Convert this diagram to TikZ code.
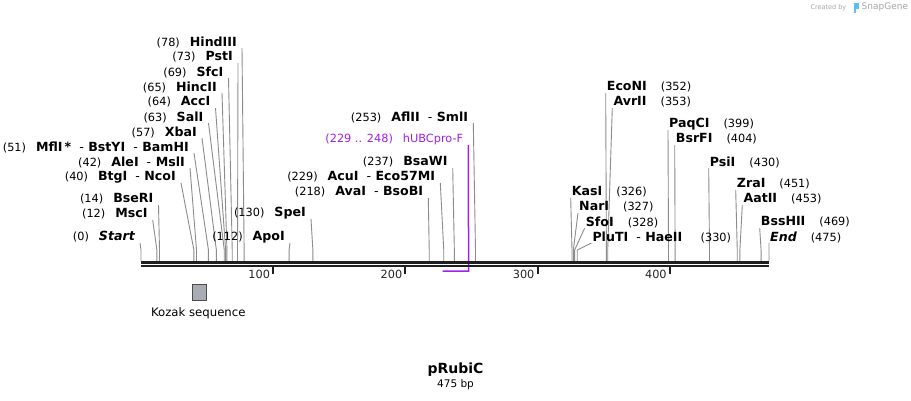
\documentclass[tikz,border=0pt]{standalone}
\usepackage{fontspec}
\setmainfont{DejaVu Sans}
\colorlet{gax}{black!45}
\colorlet{dkx}{black!88}
\colorlet{wmx}{black!35}
\definecolor{pux}{RGB}{160,32,240}
\definecolor{kzx}{RGB}{169,172,180}
\definecolor{sgx}{RGB}{90,190,240}
\newcommand\numf[1]{{\fontsize{11.3}{13}\selectfont\mdseries #1}}
\newcommand\enz[1]{{\fontsize{12.6}{14}\selectfont\bfseries #1}}
\newcommand\dsh{\mdseries\hspace{8pt}-\hspace{4.5pt}\bfseries}
\tikzset{
    cutl/.style={inner sep=0pt,anchor=east,text=black},
    cutr/.style={inner sep=0pt,anchor=west,text=black},
    site/.style={gax,line width=0.9pt},
    tickm/.style={dkx,line width=2pt},
    seqln/.style={dkx,line cap=butt}
}
\begin{document}
\begin{tikzpicture}[x=1pt,y=-1pt]
    \path[use as bounding box,fill=white] (0,0) rectangle (911,400);
    \foreach \p/\y/\xr/\txt in {
        78/42/237/{HindIII},
        73/57/233/{PstI},
        69/72/223.5/{SfcI},
        65/87/217/{HincII},
        64/102/210.5/{AccI},
        63/117/203.5/{SalI},
        57/132/197/{XbaI},
        51/147/189/{MflI\,*\dsh BstYI\dsh BamHI},
        42/162/185/{AleI\dsh MslI},
        40/177/176/{BtgI\dsh NcoI},
        14/199/153.5/{BseRI},
        12/214/147.7/{MscI},
        0/237/135/{\itshape Start},
        112/237/285/{ApoI},
        130/213/306/{SpeI},
        218/192/423.3/{AvaI\dsh BsoBI},
        229/177/435.3/{AcuI\dsh Eco57MI},
        237/162/447.7/{BsaWI},
        253/117/468.3/{AflII\dsh SmlI}
    } {
        \coordinate (s\p) at ({141+\p*1.3221},261);
        \node [cutl] (l\p) at (\xr,\y) {\numf{(\p)}\hspace{10pt}\enz{\txt}};
        \draw [site] ([xshift=5pt,yshift=-6pt]l\p.east) -- ([yshift=11pt]s\p) -- (s\p);
    }
    \foreach \p/\y/\xl/\txt in {
        352/87/606.7/{EcoNI},
        353/102/613.3/{AvrII},
        399/124/669/{PaqCI},
        404/139/675.7/{BsrFI},
        430/162/709.7/{PsiI},
        451/184/736.7/{ZraI},
        453/199/743.3/{AatII},
        469/222/760.7/{BssHII},
        475/237/770/{\itshape End},
        326/192/571.7/{KasI},
        327/207/579/{NarI},
        328/222/585.7/{SfoI},
        330/237/592.3/{PluTI\dsh HaeII}
    } {
        \coordinate (s\p) at ({141+\p*1.3221},261);
        \node [cutr] (r\p) at (\xl,\y) {\enz{\txt}\hspace{14pt}\numf{(\p)}};
        \draw [site] ([xshift=-1pt,yshift=-6pt]r\p.west) -- ([yshift=11pt]s\p) -- (s\p);
    }
    \node [cutl,text=pux] (pri) at (463.3,139) {\numf{(229 .. 248)\hspace{10pt}hUBCpro-F}};
    \coordinate (p0) at (442.5,271);
    \coordinate (p1) at (468.6,271);
    \draw [pux,line width=1.5pt] ([xshift=5pt,yshift=-6pt]pri.east) -- (p1) -- (p0);
    \draw [seqln,line width=3pt] (141,262.5) -- (769,262.5);
    \draw [seqln,line width=2pt] (141,266.3) -- (769,266.3);
    \foreach \t in {100,200,300,400} {
        \draw [tickm] ({141+\t*1.3221},267) -- ++(0,7);
        \node [cutl,text=black!85] (t\t) at ({138+\t*1.3221},274.5) {\numf{\t}};
    }
    \node [draw=black!70,fill=kzx,minimum width=14pt,minimum height=16pt,inner sep=0pt] (kz) at (199.5,292.5) {};
    \node [inner sep=0pt,font=\fontsize{11.7}{14}\selectfont] (kzl) at (198.3,313.5) {Kozak sequence};
    \node [inner sep=0pt,font=\fontsize{14}{16}\selectfont\bfseries] (ttl) at (455.5,369.5) {pRubiC};
    \node [inner sep=0pt,font=\fontsize{10.5}{12}\selectfont] (bp) at (455.5,384.5) {475 bp};
    \node [inner sep=0pt,anchor=east,text=wmx,font=\fontsize{6.5}{7}\selectfont] (crt) at (846.5,7.5) {Created by};
    \fill [sgx] (853.5,3) rectangle (856,13);
    \fill [sgx] (856,3) rectangle (858.5,8.5);
    \node [inner sep=0pt,anchor=west,text=wmx,font=\fontsize{9}{10}\selectfont] (sg) at (861.5,7.5) {SnapGene};
\end{tikzpicture}
\end{document}
